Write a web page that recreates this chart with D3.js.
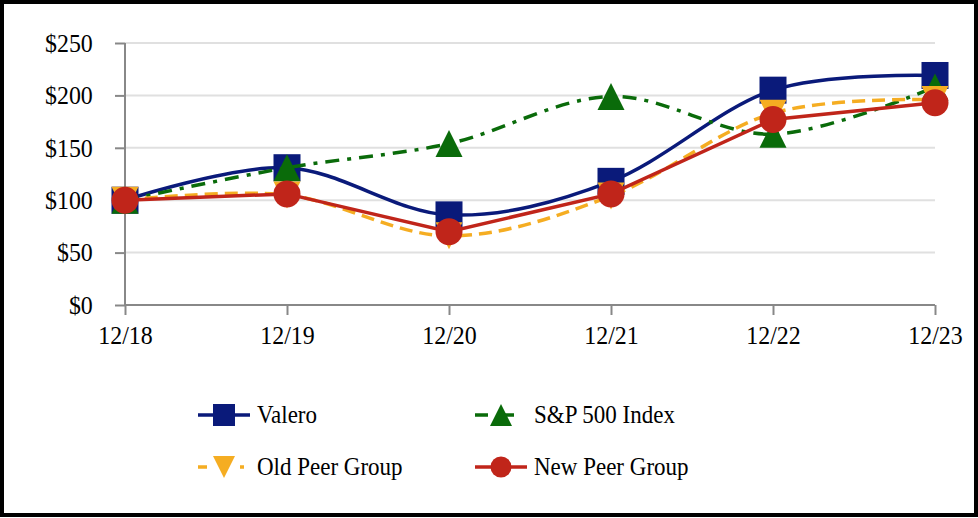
<!DOCTYPE html>
<html><head><meta charset="utf-8">
<script src="https://cdn.jsdelivr.net/npm/d3@7/dist/d3.min.js"></script>
<style>body{margin:0;background:#fff}svg{display:block}text{font-family:"Liberation Serif","Times New Roman",serif;fill:#000}</style>
</head><body><svg id="c" width="978" height="518"></svg>
<script>
const categories = ["12/18","12/19","12/20","12/21","12/22","12/23"];
const valero = [100,131,86,118,205,219];
const sp500 = [100,131,154,199,163,208];
const oldPeer = [100,105,66,104,183,196];
const newPeer = [100,106,70,106,177,193];
const yTicks = [0,50,100,150,200,250];

const svg = d3.select("#c");
svg.append("rect").attr("x",2).attr("y",2).attr("width",974).attr("height",513)
  .attr("fill","#fff").attr("stroke","#000").attr("stroke-width",4);

const x = d3.scalePoint().domain(categories).range([125,935]);
const y = d3.scaleLinear().domain([0,250]).range([305,43]);

// gridlines
svg.append("g").selectAll("line").data(yTicks.filter(d=>d>0)).join("line")
  .attr("x1",125).attr("x2",935).attr("y1",d=>y(d)).attr("y2",d=>y(d))
  .attr("stroke","#e0e0e0").attr("stroke-width",2);

const yAxis = svg.append("g").attr("transform","translate(125,0)")
  .call(d3.axisLeft(y).tickValues(yTicks).tickFormat(d=>"$"+d).tickSize(10).tickPadding(25));
const xAxis = svg.append("g").attr("transform","translate(0,305)")
  .call(d3.axisBottom(x).tickSize(10).tickPadding(11));
[yAxis,xAxis].forEach(a=>{
  a.select(".domain").attr("stroke","#888").attr("stroke-width",2);
  a.selectAll(".tick line").attr("stroke","#888").attr("stroke-width",2);
  a.selectAll("text").style("font-size","26px").attr("fill","#000").attr("transform","scale(0.92,1)");
});
xAxis.select(".domain").attr("d","M125,0H935");
yAxis.select(".domain").attr("d","M0,43V305");

const series = [
  {name:"Valero", vals:valero, color:"#0a1a7a", dash:null, curve:d3.curveCardinal.tension(0), marker:"square"},
  {name:"S&P 500 Index", vals:sp500, color:"#0a6b0a", dash:"14,8,4,8", curve:d3.curveCardinal.tension(0), marker:"tri"},
  {name:"Old Peer Group", vals:oldPeer, color:"#f5ad22", dash:"13,7", curve:d3.curveCardinal.tension(0), marker:"itri"},
  {name:"New Peer Group", vals:newPeer, color:"#c0251a", dash:null, curve:d3.curveLinear, marker:"circle"}
];

function drawMarker(g, type, cx, cy, s, color){
  if(type==="square") g.append("rect").attr("x",cx-s/2).attr("y",cy-s/2).attr("width",s).attr("height",s).attr("fill",color);
  else if(type==="circle") g.append("circle").attr("cx",cx).attr("cy",cy).attr("r",s/2).attr("fill",color);
  else if(type==="tri") g.append("path").attr("d",`M${cx},${cy-s/2}L${cx+s/2},${cy+s/2}L${cx-s/2},${cy+s/2}Z`).attr("fill",color);
  else g.append("path").attr("d",`M${cx-s/2},${cy-s/2}L${cx+s/2},${cy-s/2}L${cx},${cy+s/2}Z`).attr("fill",color);
}

series.forEach(s=>{
  const g = svg.append("g");
  const line = d3.line().x((d,i)=>x(categories[i])).y(d=>y(d)).curve(s.curve);
  g.append("path").attr("d",line(s.vals)).attr("fill","none").attr("stroke",s.color)
    .attr("stroke-width",3.5).attr("stroke-dasharray",s.dash);
  s.vals.forEach((v,i)=>drawMarker(g,s.marker,x(categories[i]),y(v),27,s.color));
});

// legend
const legPos = [[198,415],[475,415],[198,467],[475,467]];
series.forEach((s,i)=>{
  const [lx,ly] = legPos[i];
  const g = svg.append("g");
  g.append("line").attr("x1",lx).attr("x2",lx+52).attr("y1",ly).attr("y2",ly)
    .attr("stroke",s.color).attr("stroke-width",3.5).attr("stroke-dasharray",s.dash?(s.marker==="tri"?"13,13,13":"9,33,4"):null);
  drawMarker(g,s.marker,lx+26,ly,s.marker==="circle"?21:22,s.color);
  g.append("text").attr("transform",`translate(${lx+59},${ly+8}) scale(0.92,1)`)
    .style("font-size","25px").text(s.name);
});
</script></body></html>
